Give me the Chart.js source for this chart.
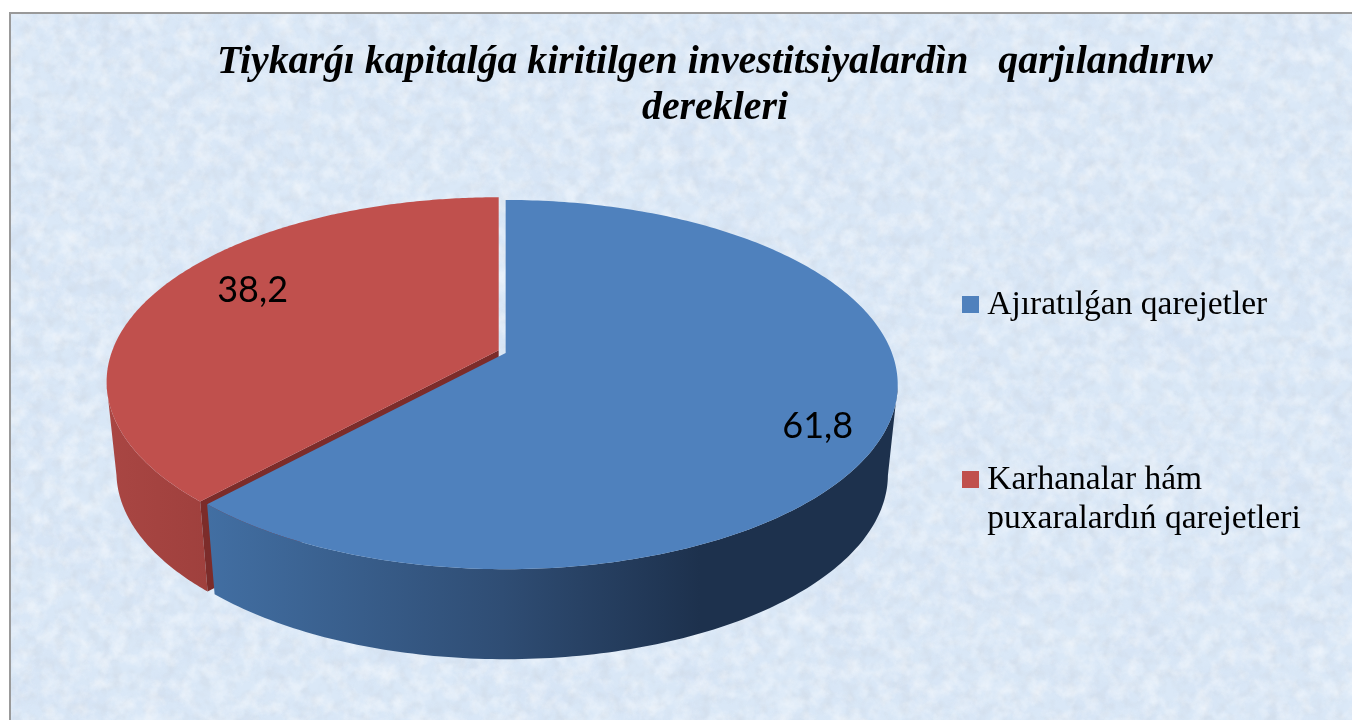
<!DOCTYPE html>
<html><head><meta charset="utf-8">
<style>
html,body{margin:0;padding:0;background:#fff;width:1352px;height:720px;overflow:hidden}
#frame{position:absolute;left:9px;top:12px;width:1343px;height:708px;border-left:2px solid #999;border-top:2px solid #999;background:#dae8f7;overflow:hidden}
#tex{position:absolute;left:0;top:0}
canvas{position:absolute;left:0;top:0}
</style></head><body>
<div id="frame"><svg id="tex" width="1343" height="708"><defs>
<filter id="f1" x="0" y="0" width="100%" height="100%"><feTurbulence type="fractalNoise" baseFrequency="0.06" numOctaves="4" seed="7"/>
<feColorMatrix values="0 0 0 0 1  0 0 0 0 1  0 0 0 0 1  1.8 0 0 0 -0.72"/></filter>
<filter id="f2" x="0" y="0" width="100%" height="100%"><feTurbulence type="fractalNoise" baseFrequency="0.02" numOctaves="3" seed="21"/>
<feColorMatrix values="0 0 0 0 0.62  0 0 0 0 0.72  0 0 0 0 0.88  0 1.5 0 0 -0.55"/></filter>
<filter id="f3" x="0" y="0" width="100%" height="100%"><feTurbulence type="fractalNoise" baseFrequency="0.09" numOctaves="2" seed="3"/>
<feColorMatrix values="0 0 0 0 0.62  0 0 0 0 0.68  0 0 0 0 0.76  0 0 1.8 0 -0.76"/></filter></defs>
<rect width="1343" height="708" filter="url(#f2)" opacity=".5"/><rect width="1343" height="708" filter="url(#f3)" opacity=".6"/><rect width="1343" height="708" filter="url(#f1)" opacity=".55"/></svg></div>
<canvas id="c" width="1352" height="720"></canvas>
<script src="https://cdn.jsdelivr.net/npm/chart.js@4/dist/chart.umd.js"></script>
<script>
const categories = ['Ajıratılǵan qarejetler', ['Karhanalar hám', 'puxaralardıń qarejetleri']];
const values = [61.8, 38.2];
const valueLabels = ['61,8', '38,2'];
const titleLines = ['Tiykarǵı kapitalǵa kiritilgen investitsiyalardìn   qarjılandırıw', 'derekleri'];
const topColors = ['#4f81bd', '#c0504d'];

const GEO = {kx:2.146, ky:0.9956, p:-0.171, depth:90, shrink:0.975, rimCut:383.5, labelPos:[[26.8,0.846],[207.7,0.763]]};
function shift(el){const m=(el.startAngle+el.endAngle)/2,o=(el.options.offset||0)/4;return [Math.cos(m)*o,Math.sin(m)*o];}
function proj(el,ang,r){const [dx,dy]=shift(el);const u=Math.cos(ang)*r,v=Math.sin(ang)*r,w=1+GEO.p*v;
  return [el.x+dx+el.outerRadius*GEO.kx*u/w, el.y+dy+el.outerRadius*GEO.ky*v/w];}
function rim(el){const pts=[],n=240;for(let i=0;i<=n;i++){pts.push(proj(el,el.startAngle+(el.endAngle-el.startAngle)*i/n,1));}return pts;}
function down(el,p){const [dx]=shift(el);const cx=el.x+dx;return [cx+(p[0]-cx)*GEO.shrink,p[1]+GEO.depth];}
function swatch(color){const s=document.createElement('canvas');s.width=17;s.height=17;const c=s.getContext('2d');c.fillStyle=color;c.fillRect(0,0,17,17);return s;}

Chart.ArcElement.prototype.draw=function(ctx){
  const a=proj(this,0,0),pts=rim(this);
  ctx.save();ctx.beginPath();ctx.moveTo(a[0],a[1]);pts.forEach(p=>ctx.lineTo(p[0],p[1]));ctx.closePath();
  ctx.fillStyle=this.options.backgroundColor;ctx.fill();ctx.restore();
};
const sidePlugin={id:'side',
  beforeDatasetsDraw(chart){
    const ctx=chart.ctx,[blue,red]=chart.getDatasetMeta(0).data;
    const side=(el,stops)=>{
      const pts=rim(el).filter(p=>p[1]>=GEO.rimCut);
      const g=ctx.createLinearGradient(stops.x0,0,stops.x1,0);stops.c.forEach(([s,c])=>g.addColorStop(s,c));
      ctx.beginPath();pts.forEach((p,i)=>i?ctx.lineTo(p[0],p[1]):ctx.moveTo(p[0],p[1]));
      pts.slice().reverse().forEach(p=>{const q=down(el,p);ctx.lineTo(q[0],q[1]);});ctx.closePath();ctx.fillStyle=g;ctx.fill();
    };
    side(red,{x0:107,x1:210,c:[[0,'#a94643'],[1,'#9f403d']]});
    const a=proj(red,0,0),e=proj(red,red.startAngle,1),ad=down(red,a),ed=down(red,e);
    ctx.beginPath();ctx.moveTo(a[0],a[1]);ctx.lineTo(e[0],e[1]);ctx.lineTo(ed[0],ed[1]);ctx.lineTo(ad[0],ad[1]);ctx.closePath();ctx.fillStyle='#7c2c2a';ctx.fill();
    side(blue,{x0:205,x1:700,c:[[0,'#426fa3'],[0.6,'#2f4d74'],[1,'#1d314d']]});
  },
  afterDatasetsDraw(chart){
    const ctx=chart.ctx,els=chart.getDatasetMeta(0).data;
    ctx.save();ctx.fillStyle='#000';ctx.font='36px Lato';ctx.textAlign='center';ctx.textBaseline='middle';
    els.forEach((el,i)=>{const [d,r]=GEO.labelPos[i];const p=proj(el,d*Math.PI/180,r);ctx.fillText(valueLabels[i],p[0],p[1]);});
    ctx.restore();
  },
  afterLayout(chart){
    const t=chart.titleBlock;t.right=2*715-t.left;
    const l=chart.legend;l.left=829;l.right=1352;l.top=146.5;l.bottom=720;
  }
};
new Chart(document.getElementById('c'),{type:'pie',
  data:{labels:categories,datasets:[{data:values,backgroundColor:topColors,borderWidth:0,offset:[0,30],radius:180}]},
  plugins:[sidePlugin],
  options:{responsive:false,animation:false,rotation:0,
    layout:{padding:{left:141,right:0,top:20,bottom:156}},
    plugins:{tooltip:{enabled:false},
      title:{display:true,text:titleLines,color:'#000',padding:{top:20,bottom:10},font:{family:'Liberation Serif',size:39.8,style:'italic',weight:'bold',lineHeight:1.156}},
      legend:{position:'right',align:'start',labels:{color:'#000',usePointStyle:true,pointStyleWidth:0.01,boxHeight:17,padding:141.5,font:{family:'Liberation Serif',size:33.5,lineHeight:1.164},
        generateLabels(chart){const items=Chart.overrides.doughnut.plugins.legend.labels.generateLabels(chart);items.forEach((it,i)=>{it.pointStyle=swatch(topColors[i]);});return items;}}}
    }}});
</script></body></html>
